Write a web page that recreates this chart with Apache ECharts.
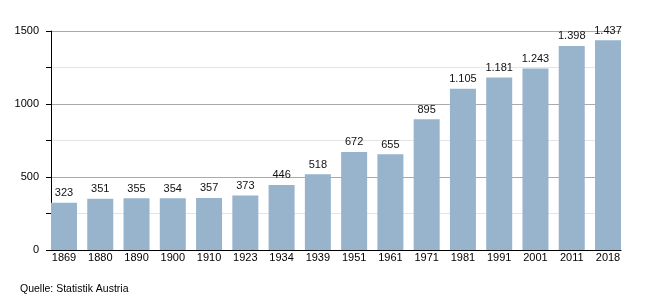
<!DOCTYPE html>
<html>
<head>
<meta charset="utf-8">
<script src="https://cdn.jsdelivr.net/npm/echarts@6/dist/echarts.min.js"></script>
<style>
html,body{margin:0;padding:0;background:#fff;}
#c{width:650px;height:300px;}
</style>
</head>
<body>
<div id="c"></div>
<script>
var years = ['1869','1880','1890','1900','1910','1923','1934','1939','1951','1961','1971','1981','1991','2001','2011','2018'];
var values = [323,351,355,354,357,373,446,518,672,655,895,1105,1181,1243,1398,1437];
var yTicks = [0,500,1000,1500];
var source = 'Quelle: Statistik Austria';

var FONT = 'Liberation Sans, Arial, sans-serif';
var pad = 0.3585;
var idx = years.map(function(_, i){ return i; });

var chart = echarts.init(document.getElementById('c'), null, {renderer:'canvas'});
chart.setOption({
  animation: false,
  textStyle: {fontFamily: FONT},
  grid: {left: 51, right: 29, top: 31, bottom: 50, containLabel: false},
  xAxis: {
    type: 'value',
    min: -pad,
    max: years.length - 1 + pad,
    axisLine: {show: true, onZero: false, lineStyle: {color: '#000', width: 1}},
    axisTick: {show: false},
    splitLine: {show: false},
    axisLabel: {
      customValues: idx,
      color: '#000', fontSize: 11, margin: 2, fontFamily: FONT,
      formatter: function(v){ return years[Math.round(v)]; }
    }
  },
  yAxis: {
    type: 'value',
    min: yTicks[0], max: yTicks[yTicks.length - 1], interval: 500,
    axisLine: {show: true, onZero: false, lineStyle: {color: '#000', width: 1}},
    axisTick: {show: true, length: 5, lineStyle: {color: '#000'}},
    minorTick: {show: true, splitNumber: 2, length: 5, lineStyle: {color: '#000'}},
    axisLabel: {
      color: '#000', fontSize: 11, margin: 12, fontFamily: FONT,
      formatter: function(v){ return String(v); }
    },
    splitLine: {show: true, lineStyle: {color: '#aaaaaa', width: 1}},
    minorSplitLine: {show: true, lineStyle: {color: '#e4e4e4', width: 1}}
  },
  series: [{
    type: 'bar',
    barWidth: 26,
    data: values.map(function(v, i){ return [i, v]; }),
    itemStyle: {color: '#98b3cc'},
    label: {
      show: true, position: 'top', distance: 4,
      color: '#111', fontSize: 11, fontFamily: FONT,
      formatter: function(p){
        return String(p.value[1]).replace(/\B(?=(\d{3})+(?!\d))/g, '.');
      }
    }
  }],
  graphic: [{
    type: 'text', left: 20, top: 284,
    style: {text: source, fontSize: 10.5, fill: '#000', fontFamily: FONT}
  }]
});
</script>
</body>
</html>
